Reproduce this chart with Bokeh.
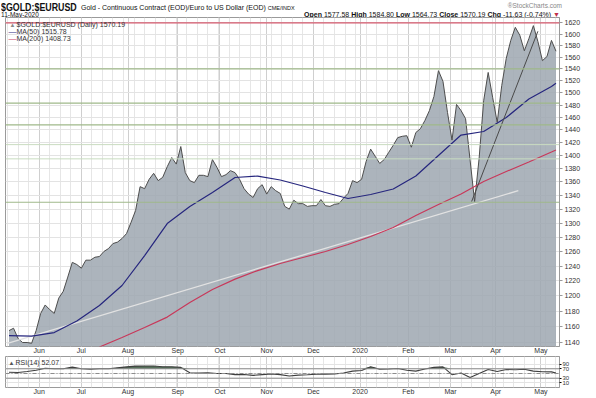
import numpy as np
import pandas as pd
from bokeh.plotting import figure
from bokeh.models import (FixedTicker, Span, Label, Div, Range1d, NumeralTickFormatter)
from bokeh.layouts import column
from bokeh.embed import file_html
from bokeh.resources import INLINE

# ---------------- data ----------------
symbol = "$GOLD:$EURUSD"
description = "Gold - Continuous Contract (EOD)/Euro to US Dollar (EOD)"
exchange = "CME/INDX"
as_of = "11-May-2020"
brand = "\u00aeStockCharts.com"
q_open, q_high, q_low, q_close = 1577.58, 1584.80, 1564.73, 1570.19
q_chg, q_chg_pct = -11.63, -0.74

price_dates = pd.date_range("2019-05-14", "2020-05-11", freq="3D")
price = [1155, 1158, 1145, 1140, 1140, 1139, 1155, 1177, 1188, 1182,
         1177, 1197, 1206, 1225, 1245, 1242, 1237, 1248, 1248, 1252,
         1253, 1260, 1264, 1271, 1273, 1278, 1285, 1301, 1318, 1353,
         1350, 1364, 1373, 1362, 1367, 1383, 1397, 1387, 1414, 1374,
         1362, 1359, 1370, 1370, 1368, 1394, 1382, 1368, 1371, 1377,
         1374, 1364, 1350, 1342, 1337, 1350, 1356, 1342, 1353, 1347,
         1343, 1324, 1320, 1333, 1328, 1328, 1324, 1325, 1325, 1334,
         1325, 1324, 1327, 1328, 1336, 1343, 1362, 1359, 1364, 1391,
         1410, 1399, 1388, 1394, 1405, 1416, 1428, 1430, 1431, 1413,
         1436, 1442, 1455, 1471, 1494, 1537, 1519, 1468, 1424, 1481,
         1471, 1458, 1393, 1331, 1396, 1487, 1534, 1492, 1452, 1512,
         1558, 1589, 1612, 1598, 1571, 1592, 1615, 1587, 1554, 1561,
         1589, 1570.19]

ma_dates = list(pd.date_range("2019-05-14", "2020-05-11", freq="15D")) + [pd.Timestamp("2020-05-11")]
ma50 = [1148.7, 1148.1, 1152.5, 1167.2, 1187.3, 1213.7, 1254.3, 1299.2, 1323.7, 1344.3,
        1366.7, 1368.9, 1362.9, 1354.0, 1344.3, 1335.5, 1341.4, 1349.5, 1368.9, 1400.1,
        1432.0, 1437.6, 1459.8, 1489.8, 1510.5, 1515.78]
ma200 = [np.nan, np.nan, np.nan, np.nan, 1134.4, 1146.2, 1158.9, 1172.3, 1191.2, 1208.3,
         1222.3, 1233.8, 1243.4, 1251.6, 1259.9, 1269.6, 1280.8, 1293.6, 1310.7, 1326.7,
         1342.1, 1360.7, 1375.7, 1390.2, 1405.5, 1408.73]

rsi_dates = list(pd.date_range("2019-05-14", "2020-05-11", freq="6D")) + [pd.Timestamp("2020-05-11")]
rsi = [55.5, 54, 58.5, 64, 72, 70, 70, 77, 70, 68,
       70, 70, 74, 78, 81.5, 82, 82, 79, 78.5, 76,
       53, 52, 53, 50, 50, 45, 46, 42, 45, 48,
       45, 39, 43, 44.5, 47, 47.5, 48, 52, 60, 63,
       79, 68, 69, 71, 64, 60, 69, 76, 78, 45,
       52, 33, 50, 67, 58.5, 67, 66, 68, 60, 57.5,
       57, 52.07]

ma50_last, ma200_last, rsi_last = 1515.78, 1408.73, 52.07

price_ticks = [1140, 1160, 1180, 1200, 1220, 1240, 1260, 1280, 1300, 1320, 1340, 1360, 1380,
               1400, 1420, 1440, 1460, 1480, 1500, 1520, 1540, 1560, 1580, 1600, 1620]
rsi_ticks = [10, 30, 70, 90]
month_ticks = ["2019-06-03", "2019-07-01", "2019-08-01", "2019-09-03", "2019-10-01", "2019-11-01",
               "2019-12-02", "2020-01-02", "2020-02-03", "2020-03-02", "2020-04-01", "2020-05-01"]
month_labels = ["Jun", "Jul", "Aug", "Sep", "Oct", "Nov", "Dec", "2020", "Feb", "Mar", "Apr", "May"]

levels_green = [1540, 1483, 1448, 1330]
levels_light = [1417, 1395]
level_red = 1620
trend_light_dates = ["2019-05-13", "2020-04-16"]
trend_light_vals = [1139, 1347]
trend_dark_dates = ["2020-03-16", "2020-04-29"]
trend_dark_vals = [1331, 1605]
rsi_bands = [30, 70]
rsi_mid = 50

# ---------------- helpers ----------------
def ms(d):
    return int(pd.Timestamp(d).value // 10**6)

px = [ms(d) for d in price_dates]
mx = [ms(d) for d in ma_dates]
rx = [ms(d) for d in rsi_dates]
month_ms = [ms(d) for d in month_ticks]
week_ms = [ms(d) for d in pd.date_range("2019-05-13", "2020-05-11", freq="W-MON")]

FONT = "Liberation Sans"
TXT = "#333333"
x_lo, x_hi = ms("2019-05-11 16:00"), ms("2020-05-13 08:00")
y_lo, y_hi = 1135, 1629.5
W = 596
FW = 554      # frame width
FH_P = 329    # price frame height
FH_R = 31     # rsi frame height

def month_axis(ax):
    ax.ticker = FixedTicker(ticks=month_ms, minor_ticks=week_ms)
    ax.major_label_overrides = dict(zip(month_ms, month_labels))
    ax.major_label_text_font = FONT
    ax.major_label_text_font_size = "7px"
    ax.major_label_text_color = TXT
    ax.major_tick_in = 0
    ax.major_tick_out = 0
    ax.minor_tick_in = 0
    ax.minor_tick_out = 0
    ax.axis_line_color = None
    ax.major_label_standoff = 0

def month_grid(fig):
    fig.xgrid.ticker = FixedTicker(ticks=month_ms, minor_ticks=week_ms)
    fig.xgrid.grid_line_color = "#cfcfcf"
    fig.xgrid.minor_grid_line_color = "#e6e6e6"

# ---------------- header ----------------
header_html = f"""
<div style="position:relative;width:{W}px;height:17px;font-family:'{FONT}',Arial,sans-serif;color:#111;line-height:1;">
 <span style="position:absolute;left:1px;top:1.5px;font-size:11.5px;font-weight:bold;transform:scaleX(0.77);transform-origin:left top;white-space:nowrap;">{symbol}</span>
 <span style="position:absolute;left:81px;top:4px;font-size:7px;white-space:nowrap;">{description} <span style="font-size:5.5px;">{exchange}</span></span>
 <span style="position:absolute;left:1px;top:12px;font-size:6.5px;white-space:nowrap;">{as_of}</span>
 <span style="position:absolute;right:34px;top:3px;font-size:6.5px;color:#888;white-space:nowrap;">{brand}</span>
 <span style="position:absolute;right:36px;top:11px;font-size:7px;white-space:nowrap;"><b>Open</b> {q_open:.2f} <b>High</b> {q_high:.2f} <b>Low</b> {q_low:.2f} <b>Close</b> {q_close:.2f} <b>Chg</b> {q_chg:.2f} ({q_chg_pct:.2f}%) <span style="color:#c0304a;">&#9660;</span></span>
</div>"""
header = Div(text=header_html, width=W, height=17, margin=0)

# ---------------- price panel ----------------
p = figure(frame_width=FW, frame_height=FH_P, x_range=Range1d(x_lo, x_hi), y_range=Range1d(y_lo, y_hi),
           y_axis_type="log", y_axis_location="right", x_axis_location="below",
           toolbar_location=None, output_backend="svg", margin=0,
           min_border_left=5, min_border_right=W - 5 - FW, min_border_top=0, min_border_bottom=0)
p.outline_line_color = "#9a9a9a"

p.yaxis.ticker = FixedTicker(ticks=price_ticks)
p.yaxis.formatter = NumeralTickFormatter(format="0")
p.yaxis.major_label_text_font = FONT
p.yaxis.major_label_text_font_size = "7px"
p.yaxis.major_label_text_color = TXT
p.yaxis.major_tick_in = 0
p.yaxis.major_tick_out = 3
p.yaxis.major_tick_line_color = "#999999"
p.yaxis.minor_tick_line_color = None
p.yaxis.axis_line_color = "#9a9a9a"
p.yaxis.major_label_standoff = 2
p.ygrid.ticker = FixedTicker(ticks=price_ticks)
p.ygrid.grid_line_color = "#e3e3e3"
p.ygrid.minor_grid_line_color = None
month_axis(p.xaxis[0])
month_grid(p)

p.varea(x=px, y1=y_lo, y2=price, fill_color="#9ea7b0", fill_alpha=0.85)
p.line(px, price, line_color="#4d4d4d", line_width=1)
p.line([ms(d) for d in trend_light_dates], trend_light_vals, line_color="#e2e2e2", line_width=1.3)
p.line(mx, ma200, line_color="#c8385a", line_width=1.2)
p.line(mx, ma50, line_color="#26267e", line_width=1.2)
p.line([ms(d) for d in trend_dark_dates], trend_dark_vals, line_color="#4a4a4a", line_width=1)

for lv in levels_green:
    p.add_layout(Span(location=lv, dimension="width", line_color="#9fb98a", line_width=1.2))
for lv in levels_light:
    p.add_layout(Span(location=lv, dimension="width", line_color="#c9dcc0", line_width=1))
p.add_layout(Span(location=level_red, dimension="width", line_color="#d4596d", line_width=1.2))

# legend texts
leg_top = FH_P - 7
p.add_layout(Label(x=4, y=leg_top, x_units="screen", y_units="screen", text="\u25b2",
                   text_font=FONT, text_font_size="6px", text_color="#8a8a8a", text_baseline="middle"))
p.add_layout(Label(x=11, y=leg_top, x_units="screen", y_units="screen",
                   text=f"{symbol} (Daily) {q_close:.2f}",
                   text_font=FONT, text_font_size="7px", text_color=TXT, text_baseline="middle"))
p.add_layout(Label(x=3, y=leg_top - 7, x_units="screen", y_units="screen", text="\u2014",
                   text_font=FONT, text_font_size="8px", text_color="#26267e", text_baseline="middle"))
p.add_layout(Label(x=11, y=leg_top - 7, x_units="screen", y_units="screen",
                   text=f"MA(50) {ma50_last:.2f}",
                   text_font=FONT, text_font_size="7px", text_color=TXT, text_baseline="middle"))
p.add_layout(Label(x=3, y=leg_top - 14, x_units="screen", y_units="screen", text="\u2014",
                   text_font=FONT, text_font_size="8px", text_color="#c8385a", text_baseline="middle"))
p.add_layout(Label(x=11, y=leg_top - 14, x_units="screen", y_units="screen",
                   text=f"MA(200) {ma200_last:.2f}",
                   text_font=FONT, text_font_size="7px", text_color=TXT, text_baseline="middle"))

# value boxes on the right
for val, col in [(q_close, "#000000"), (ma50_last, "#26267e"), (ma200_last, "#c8385a")]:
    p.add_layout(Label(x=FW + 2, y=val, x_units="screen", y_units="data", text=f"{val:.2f}",
                       text_font=FONT, text_font_size="7.5px",
                       text_font_style="bold" if col == "#000000" else "normal",
                       text_color="#111111", text_baseline="middle",
                       border_line_color=col, border_line_width=1,
                       background_fill_color="white", padding=1))

# ---------------- RSI panel ----------------
r = figure(frame_width=FW, frame_height=FH_R, x_range=p.x_range, y_range=Range1d(-9.6, 122.3),
           y_axis_location="right", x_axis_location="below",
           toolbar_location=None, output_backend="svg", margin=0,
           min_border_left=5, min_border_right=W - 5 - FW, min_border_top=0, min_border_bottom=0)
r.outline_line_color = "#9a9a9a"
month_axis(r.xaxis[0])
month_grid(r)

r.yaxis.ticker = FixedTicker(ticks=rsi_ticks)
r.yaxis.major_label_text_font = FONT
r.yaxis.major_label_text_font_size = "6px"
r.yaxis.major_label_text_color = TXT
r.yaxis.major_tick_in = 0
r.yaxis.major_tick_out = 2
r.yaxis.minor_tick_line_color = None
r.yaxis.axis_line_color = "#9a9a9a"
r.yaxis.major_label_standoff = 1
r.ygrid.ticker = FixedTicker(ticks=[10, 30, 50, 70, 90])
r.ygrid.grid_line_color = "#e3e3e3"

rsi_arr = np.array(rsi, dtype=float)
r.varea(x=rx, y1=rsi_bands[1], y2=np.maximum(rsi_arr, rsi_bands[1]), fill_color="#56705a")
for b in rsi_bands:
    r.add_layout(Span(location=b, dimension="width", line_color="#8c8c8c", line_width=1))
r.add_layout(Span(location=rsi_mid, dimension="width", line_color="#8c8c8c", line_width=1,
                  line_dash="4 2 1 2"))
r.line(rx, rsi, line_color="#3e3e3e", line_width=1.1)

r.add_layout(Label(x=3, y=FH_R - 6, x_units="screen", y_units="screen", text="\u25b2",
                   text_font=FONT, text_font_size="6px", text_color="#555555", text_baseline="middle"))
r.add_layout(Label(x=10, y=FH_R - 6, x_units="screen", y_units="screen", text=f"RSI(14) {rsi_last:.2f}",
                   text_font=FONT, text_font_size="7px", text_color=TXT, text_baseline="middle"))
r.add_layout(Label(x=FW + 2, y=rsi_last, x_units="screen", y_units="data", text=f"{rsi_last:.2f}",
                   text_font=FONT, text_font_size="7px", text_color="#111111", text_baseline="middle",
                   border_line_color="#333333", border_line_width=1,
                   background_fill_color="white", padding=1))

layout = column(header, p, r, margin=0, spacing=0)
open("out.html", "w").write(file_html(layout, INLINE))
